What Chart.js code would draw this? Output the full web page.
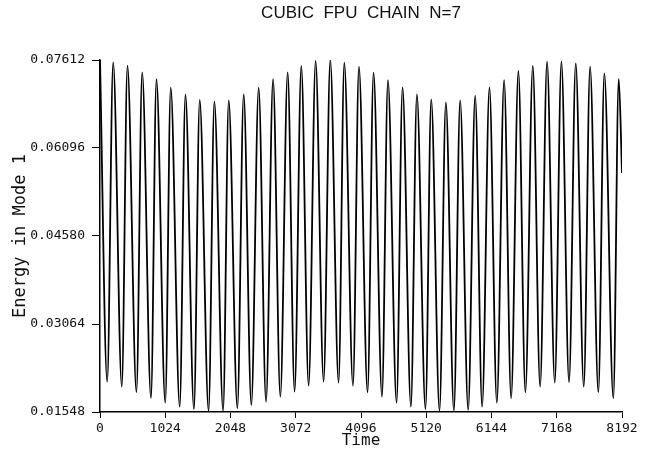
<!DOCTYPE html>
<html>
<head>
<meta charset="utf-8">
<title>Cubic FPU chain N=7</title>
<script src="https://cdn.jsdelivr.net/npm/chart.js@4.4.1/dist/chart.umd.min.js"></script>
<style>
  body { margin: 0; background: #fff; }
  #wrap { width: 657px; height: 450px; }
</style>
</head>
<body>
<div id="wrap"><canvas id="fpu" width="657" height="450"></canvas></div>
<script>
// turning points of the mode-1 energy (start, trough, peak, trough, ... end)
const times = [
  0, 113, 207, 342, 431, 572, 662, 800, 886, 1024, 1110, 1251, 1341, 1474, 1565, 1704,
  1795, 1932, 2020, 2156, 2255, 2375, 2490, 2606, 2716, 2830, 2945, 3054, 3159, 3274,
  3384, 3509, 3614, 3744, 3834, 3970, 4064, 4199, 4293, 4425, 4519, 4654, 4748, 4879,
  4973, 5108, 5198, 5328, 5428, 5554, 5652, 5778, 5888, 5997, 6112, 6228, 6342, 6452,
  6566, 6676, 6792, 6907, 7016, 7137, 7241, 7361, 7466, 7592, 7691, 7821, 7915, 8056,
  8141, 8192
];
const energy = [
  0.07612, 0.02070, 0.07572, 0.01984, 0.07514, 0.01887, 0.07400, 0.01789, 0.07280, 0.01708,
  0.07135, 0.01639, 0.07021, 0.01595, 0.06923, 0.01570, 0.06894, 0.01570, 0.06918, 0.01612,
  0.07021, 0.01669, 0.07135, 0.01726, 0.07280, 0.01812, 0.07400, 0.01898, 0.07509, 0.02001,
  0.07595, 0.02070, 0.07612, 0.02053, 0.07565, 0.02001, 0.07497, 0.01887, 0.07393, 0.01812,
  0.07267, 0.01708, 0.07142, 0.01639, 0.07021, 0.01595, 0.06935, 0.01570, 0.06883, 0.01570,
  0.06918, 0.01583, 0.06997, 0.01639, 0.07142, 0.01708, 0.07267, 0.01784, 0.07423, 0.01887,
  0.07509, 0.01984, 0.07583, 0.02053, 0.07583, 0.02060, 0.07555, 0.01984, 0.07497, 0.01887,
  0.07383, 0.01784, 0.07285, 0.05665
];
const xTicks = [0, 1024, 2048, 3072, 4096, 5120, 6144, 7168, 8192];
const yTicks = [0.01548, 0.03064, 0.04580, 0.06096, 0.07612];

const mono = 'DejaVu Sans Mono';

new Chart(document.getElementById('fpu'), {
  type: 'line',
  data: {
    datasets: [{
      data: times.map((t, i) => ({ x: t, y: energy[i] })),
      borderColor: '#000',
      borderWidth: 1.8,
      pointRadius: 0,
      cubicInterpolationMode: 'monotone',
      fill: false,
    }],
  },
  options: {
    responsive: false,
    animation: false,
    layout: { padding: { left: 0, right: 35, top: 0, bottom: 0 } },
    plugins: {
      legend: { display: false },
      tooltip: { enabled: false },
      title: {
        display: true,
        fullSize: false,
        text: 'CUBIC  FPU  CHAIN  N=7',
        color: '#111',
        font: { family: 'Liberation Sans', size: 17, weight: 'normal', lineHeight: 1.2 },
        padding: { top: 3, bottom: 36.6 },
      },
    },
    scales: {
      x: {
        type: 'linear',
        min: 0,
        max: 8192,
        afterFit: s => { s.height = 38; },
        afterBuildTicks: s => { s.ticks = xTicks.map(v => ({ value: v })); },
        grid: { drawOnChartArea: false, tickLength: 6, color: '#000' },
        border: { color: '#000', width: 1.5 },
        ticks: {
          autoSkip: false, maxRotation: 0, padding: 3, color: '#111',
          font: { family: mono, size: 13 },
          callback: v => String(v),
        },
        title: {
          display: true, text: 'Time', color: '#111',
          font: { family: mono, size: 16 },
          padding: { top: 0, bottom: 0 },
        },
      },
      y: {
        min: 0.01548,
        max: 0.07612,
        afterFit: s => { s.width = 100; },
        afterBuildTicks: s => { s.ticks = yTicks.map(v => ({ value: v })); },
        grid: { drawOnChartArea: false, tickLength: 8, color: '#000' },
        border: { color: '#000', width: 1.5 },
        ticks: {
          padding: 7, color: '#111',
          font: { family: mono, size: 13 },
          callback: v => v.toFixed(5),
        },
        title: {
          display: true, text: 'Energy in Mode 1', color: '#111',
          font: { family: mono, size: 17 },
          padding: { top: 10, bottom: 0 },
        },
      },
    },
  },
});
</script>
</body>
</html>
